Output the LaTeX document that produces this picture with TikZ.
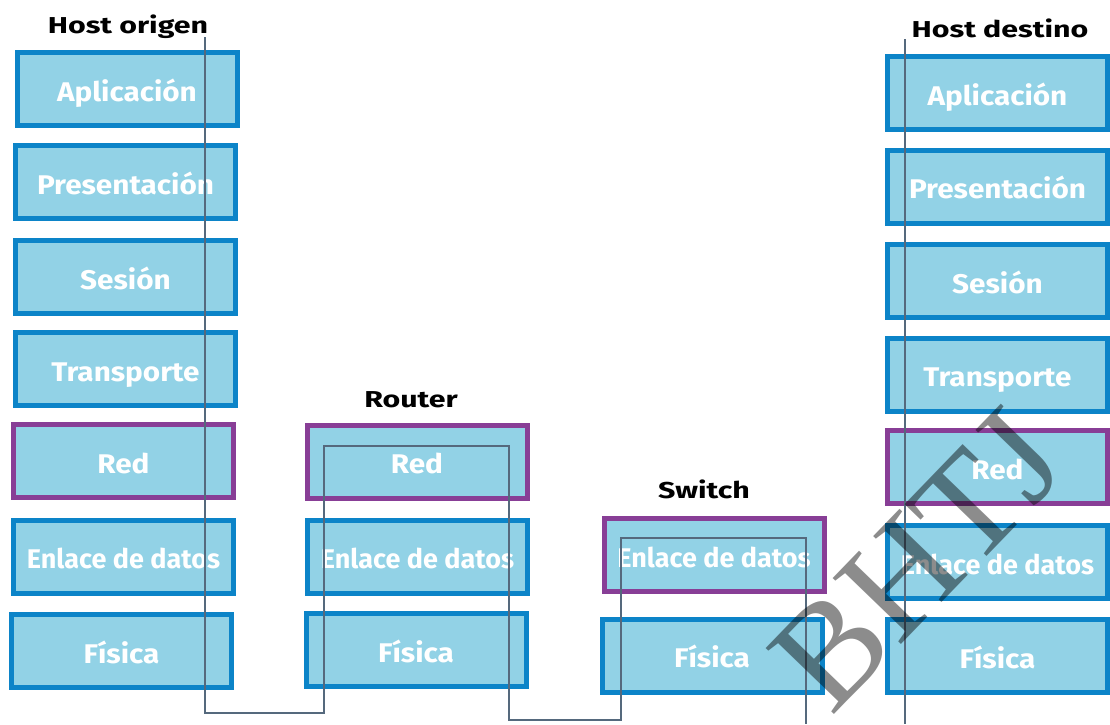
\documentclass[tikz,border=0pt]{standalone}
\usepackage{fontspec}
\setmainfont{Fira Sans}
\newfontfamily\layerfont[FakeStretch=1.1]{Fira Sans}
\newfontfamily\headfont[FakeStretch=1.32]{Fira Sans}
\newfontfamily\wmfont{Liberation Serif}
\definecolor{layerfill}{RGB}{146,210,230}
\definecolor{layerblue}{RGB}{12,132,200}
\definecolor{layerpurple}{RGB}{136,62,150}
\definecolor{wirecol}{RGB}{85,105,125}

\begin{document}
\begin{tikzpicture}[x=1pt,y=-1pt,
  layer/.style={draw=layerblue, fill=layerfill, line width=5pt, text=white,
    font=\layerfont\bfseries\fontsize{27}{30}\selectfont, inner sep=0pt,
    text height=24pt, text depth=0pt,
    minimum width=220pt, minimum height=73pt},
  hl/.style={layer, draw=layerpurple},
  longtext/.style={font=\bfseries\fontsize{27}{30}\selectfont},
  heading/.style={font=\headfont\bfseries\fontsize{23}{26}\selectfont, text=black,
    inner sep=0pt, anchor=base},
  wire/.style={draw=wirecol, line width=1.4pt}]

\useasboundingbox (0,0) rectangle (1110,724);
\fill[white] (0,0) rectangle (1110,724);

% ---- source host: full seven-layer stack
\node[heading] (hsrc) at (128,33) {Host origen};
\node[layer] (s7) at (127,89)    {Aplicación};
\node[layer] (s6) at (125.5,182) {Presentación};
\node[layer] (s5) at (125.5,277) {Sesión};
\node[layer] (s4) at (125.5,369) {Transporte};
\node[hl]    (s3) at (123.5,461) {Red};
\node[layer, longtext] (s2) at (123.5,556.5) {Enlace de datos};
\node[layer] (s1) at (121.5,651) {Física};

% ---- router: layers 1-3
\node[heading] (hrt) at (411,407) {Router};
\node[hl]    (r3) at (417,461.5) {Red};
\node[layer, longtext] (r2) at (417.5,556.5) {Enlace de datos};
\node[layer] (r1) at (416,650) {Física};

% ---- switch: layers 1-2
\node[heading] (hsw) at (704,498) {Switch};
\node[hl, longtext] (w2) at (714,555) {Enlace de datos};
\node[layer] (w1) at (712,655.5) {Física};

% ---- destination host: full seven-layer stack
\node[heading] (hdst) at (1000,37) {Host destino};
\node[layer] (d7) at (997.5,93)  {Aplicación};
\node[layer] (d6) at (997.5,186.5) {Presentación};
\node[layer] (d5) at (997.5,281) {Sesión};
\node[layer] (d4) at (997.5,374.5) {Transporte};
\node[hl]    (d3) at (997.5,467) {Red};
\node[layer, longtext] (d2) at (997.5,562) {Enlace de datos};
\node[layer] (d1) at (997.5,656) {Física};

% ---- data path through the devices
\coordinate (p0) at (205,37);
\coordinate (p1) at (205,713);
\coordinate (p2) at (324,446);
\coordinate (p3) at (509,720);
\coordinate (p4) at (621,538);
\coordinate (p5) at (806,724);
\coordinate (q0) at (905,39);
\coordinate (q1) at (905,724);
\draw[wire] (p0) -- (p1) -| (p2) -| (p3) -| (p4) -| (p5);
\draw[wire] (q0) -- (q1);

% ---- watermark
\node[font=\wmfont\fontsize{145}{145}\selectfont, text=black, opacity=0.45,
  rotate=46, inner sep=0pt] (wm) at (918,560) {BHTJ};
\end{tikzpicture}
\end{document}
